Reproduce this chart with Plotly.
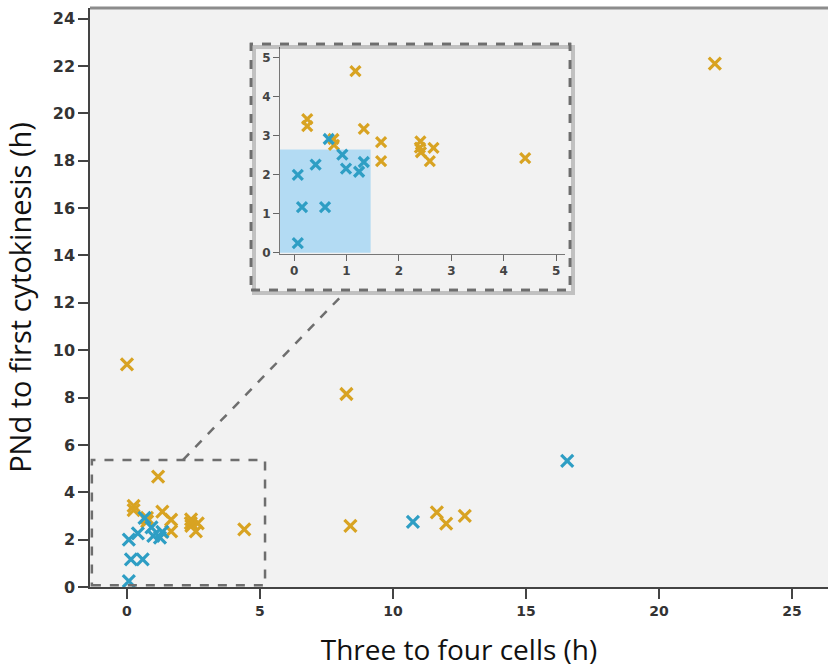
import plotly.graph_objects as go

# ---- data (hours) ----
blue_x = [0.07, 0.15, 0.59, 0.07, 0.41, 0.66, 0.92, 0.99, 1.24, 1.33, 10.75, 16.55]
blue_y = [2.00, 1.17, 1.17, 0.25, 2.26, 2.92, 2.52, 2.16, 2.08, 2.33, 2.75, 5.33]

gold_x = [1.17, 0.25, 0.25, 0.75, 0.76, 1.33, 1.66, 1.66, 2.41, 2.40, 2.42, 2.59, 2.66, 4.41,
          22.1, 0.0, 8.25, 8.4, 11.65, 12.0, 12.7]
gold_y = [4.66, 3.43, 3.25, 2.92, 2.77, 3.18, 2.84, 2.35, 2.86, 2.70, 2.58, 2.35, 2.69, 2.43,
          22.1, 9.4, 8.15, 2.58, 3.15, 2.68, 3.0]

x_ticks = [0, 5, 10, 15, 20, 25]
y_ticks = [0, 2, 4, 6, 8, 10, 12, 14, 16, 18, 20, 22, 24]
inset_ticks = [0, 1, 2, 3, 4, 5]

BLUE = "#2e9ec4"
GOLD = "#d8a322"
BG = "#f2f2f2"
DASH = "#6e6e6e"

fig = go.Figure()

def add_points(xs, ys, color, xa, ya, size):
    fig.add_trace(go.Scatter(
        x=xs, y=ys, mode="markers", xaxis=xa, yaxis=ya, showlegend=False,
        marker=dict(symbol="x-thin-open", size=size, color=color,
                    line=dict(width=3.2, color=color)),
        cliponaxis=True,
    ))

add_points(gold_x, gold_y, GOLD, "x", "y", 12)
add_points(blue_x, blue_y, BLUE, "x", "y", 12)
add_points(gold_x, gold_y, GOLD, "x2", "y2", 10)
add_points(blue_x, blue_y, BLUE, "x2", "y2", 10)

ytick_font = dict(family="DejaVu Sans", size=16, color="#333333", weight="bold")
xtick_font = dict(family="DejaVu Sans", size=14, color="#333333", weight="bold")
inset_font = dict(family="DejaVu Sans", size=12, color="#444444", weight="bold")
title_font = dict(family="Open Sans, sans-serif", size=28, color="#111111")

# Body margin is removed (post_script), so figure coords == window coords.
W, H = 828, 668
L, T, B = 90, 8, 81
PW = W - L          # plot-area width in px
PH = H - T - B      # plot-area height in px

def px(wx):  # window x -> paper x
    return (wx - L) / PW

def py(wy):  # window y -> paper y
    return (H - wy - B) / PH

shapes = []
# inset shadow
shapes.append(dict(type="rect", xref="paper", yref="paper",
                   x0=px(254), x1=px(573), y0=py(293), y1=py(47),
                   line=dict(color="rgba(0,0,0,0.2)", width=4), fillcolor="rgba(0,0,0,0)",
                   layer="above"))
# inset box background + dashed border
shapes.append(dict(type="rect", xref="paper", yref="paper",
                   x0=px(251), x1=px(570), y0=py(290), y1=py(44),
                   line=dict(color=DASH, width=2.5, dash="dash"), fillcolor=BG,
                   layer="below"))
shapes.append(dict(type="rect", xref="paper", yref="paper",
                   x0=px(251), x1=px(570), y0=py(290), y1=py(44),
                   line=dict(color=DASH, width=2.5, dash="dash"), fillcolor="rgba(0,0,0,0)",
                   layer="above"))
# blue shaded area in inset
shapes.append(dict(type="rect", xref="x2", yref="y2", x0=-0.27, x1=1.46, y0=0, y1=2.65,
                   fillcolor="#b3dbf3", line=dict(width=0), layer="below"))
# main dashed zoom region
shapes.append(dict(type="rect", xref="x", yref="y", x0=-1.32, x1=5.19, y0=0.07, y1=5.36,
                   line=dict(color=DASH, width=2.5, dash="dash"), layer="above"))
# connector
shapes.append(dict(type="line", xref="x", yref="y", x0=2.1, y0=5.36, x1=8.2, y1=12.45,
                   line=dict(color=DASH, width=2.5, dash="dash"), layer="above"))
# top border of main plot
shapes.append(dict(type="line", xref="paper", yref="paper", x0=0, x1=1, y0=1.0, y1=1.0,
                   line=dict(color="#8c8c8c", width=3), layer="above"))

x_min = -1.39
x_max = x_min + PW / 26.6

fig.update_layout(
    width=W, height=H,
    margin=dict(l=L, r=0, t=T, b=B, autoexpand=False),
    paper_bgcolor="white", plot_bgcolor=BG,
    shapes=shapes,
    xaxis=dict(range=[x_min, x_max], tickvals=x_ticks, ticks="outside", ticklen=10,
               tickwidth=1.5, tickcolor="#444", showline=True, linecolor="#444", linewidth=1.5,
               showgrid=False, zeroline=False, tickfont=xtick_font, automargin=False,
               title=dict(text="Three to four cells (h)", font=title_font, standoff=24)),
    yaxis=dict(range=[0, 24.45], tickvals=y_ticks, ticks="outside", ticklen=10,
               tickwidth=1.5, tickcolor="#444", showline=True, linecolor="#444", linewidth=1.5,
               showgrid=False, zeroline=False, tickfont=ytick_font, automargin=False,
               title=dict(text="PNd to first cytokinesis (h)",
                          font=dict(family="Open Sans, sans-serif", size=29, color="#111111"),
                          standoff=14)),
    xaxis2=dict(domain=[px(280), px(565)], anchor="y2", range=[-0.27, 5.17],
                tickvals=inset_ticks, ticks="outside", ticklen=6, tickcolor="#666",
                showline=True, linecolor="#777", linewidth=1, showgrid=False, zeroline=False,
                tickfont=inset_font),
    yaxis2=dict(domain=[py(254), py(47)], anchor="x2", range=[-0.03, 5.28],
                tickvals=inset_ticks, ticks="outside", ticklen=6, tickcolor="#666",
                showline=True, linecolor="#777", linewidth=1, showgrid=False, zeroline=False,
                tickfont=inset_font),
)

fig.write_html(
    "out.html",
    config={"displayModeBar": False},
    post_script="document.body.style.margin='0';document.body.style.overflow='hidden';",
)
